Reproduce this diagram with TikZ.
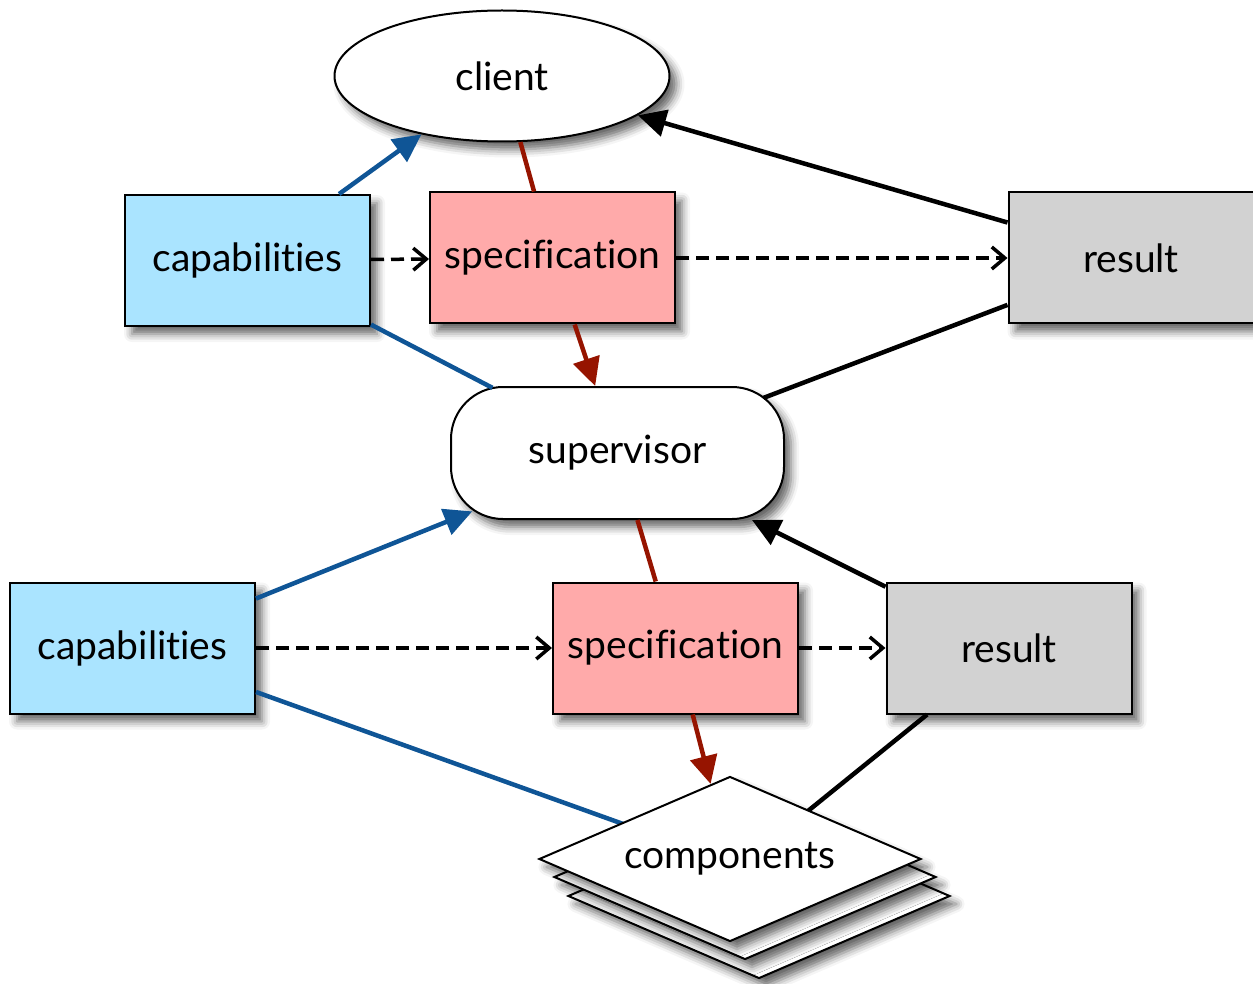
\documentclass[tikz,border=0pt]{standalone}
\usepackage{fontspec}
\setmainfont{Lato}[Ligatures={NoCommon}]
\usetikzlibrary{shapes.geometric,arrows.meta,shadows.blur}

\definecolor{capblue}{RGB}{170,228,255}
\definecolor{specpink}{RGB}{255,170,170}
\definecolor{resgray}{RGB}{210,210,210}
\definecolor{linkblue}{RGB}{15,85,150}
\definecolor{linkred}{RGB}{150,20,0}

\begin{document}
\begin{tikzpicture}[x=1pt,y=1pt,yscale=-1,xscale=1,
  every node/.style={font=\fontsize{39}{45}\selectfont},
  shadowed/.style={blur shadow={shadow xshift=7pt,shadow yshift=-8pt,shadow blur radius=8pt,shadow opacity=60}},
  boxnode/.style={draw,line width=2pt,minimum width=245,minimum height=131,inner sep=0pt,shadowed},
  capbox/.style={boxnode,fill=capblue},
  specbox/.style={boxnode,fill=specpink},
  resbox/.style={boxnode,fill=resgray},
  compsheet/.style={diamond,draw,fill=white,line width=2pt,minimum width=382,minimum height=165,inner sep=0pt,aspect=2.3,shadowed},
  bluelink/.style={draw=linkblue,line width=4.5pt},
  redlink/.style={draw=linkred,line width=4.5pt},
  blacklink/.style={draw=black,line width=4.5pt},
  solidtip/.style={-{Triangle[length=28pt,width=27pt]}},
  dashlink/.style={draw=black,line width=3.5pt,dash pattern={on 13pt off 7pt},-{Straight Barb[length=13pt,width=22pt]}}
]
\useasboundingbox (0,0) rectangle (1253,984);

%Shape: Ellipse
\node[ellipse,draw,fill=white,line width=2pt,minimum width=335,minimum height=131,shadowed] (client) at (502,76) {client};
%Shape: Boxes, upper row
\node[capbox] (capT) at (247.5,260.5) {capabilities};
\node[specbox] (specT) at (552.5,258) {specification};
\node[resbox] (resT) at (1131,258) {result};
%Shape: Rounded box
\node[draw,fill=white,line width=2pt,rounded corners=52pt,minimum width=333,minimum height=132,shadowed] (sup) at (617.5,453) {supervisor};
%Shape: Boxes, lower row
\node[capbox] (capB) at (132.5,648) {capabilities};
\node[specbox] (specB) at (675.5,648) {specification};
\node[resbox] (resB) at (1009,648) {result};

%Straight Lines, under the sheets
\draw[bluelink] (capB) -- (740,866);
\draw[blacklink] (resB) -- (740,866);

%Shape: Stacked sheets
\node[compsheet] (compC) at (759,896) {};
\node[compsheet] (compB) at (745,877) {};
\node[compsheet] (comp) at (730,859) {components};

%Straight Lines, upper part
\draw[bluelink,solidtip] (capT) -- (client);
\draw[redlink] (client) -- (specT);
\draw[blacklink,solidtip] (resT) -- (client);
\draw[dashlink] (capT) -- (specT);
\draw[dashlink] (specT) -- (resT);
\draw[redlink,solidtip] (specT) -- (sup);
\draw[bluelink,shorten >=-4pt] (capT) -- (sup);
\draw[blacklink,shorten >=-23pt] (resT) -- (sup);

%Straight Lines, lower part
\draw[bluelink,solidtip,shorten >=-23pt] (capB) -- (sup);
\draw[redlink] (sup) -- (specB);
\draw[blacklink,solidtip] (resB) -- (sup);
\draw[dashlink] (capB) -- (specB);
\draw[dashlink] (specB) -- (resB);
\draw[redlink,solidtip] (specB) -- (comp);
\end{tikzpicture}
\end{document}
